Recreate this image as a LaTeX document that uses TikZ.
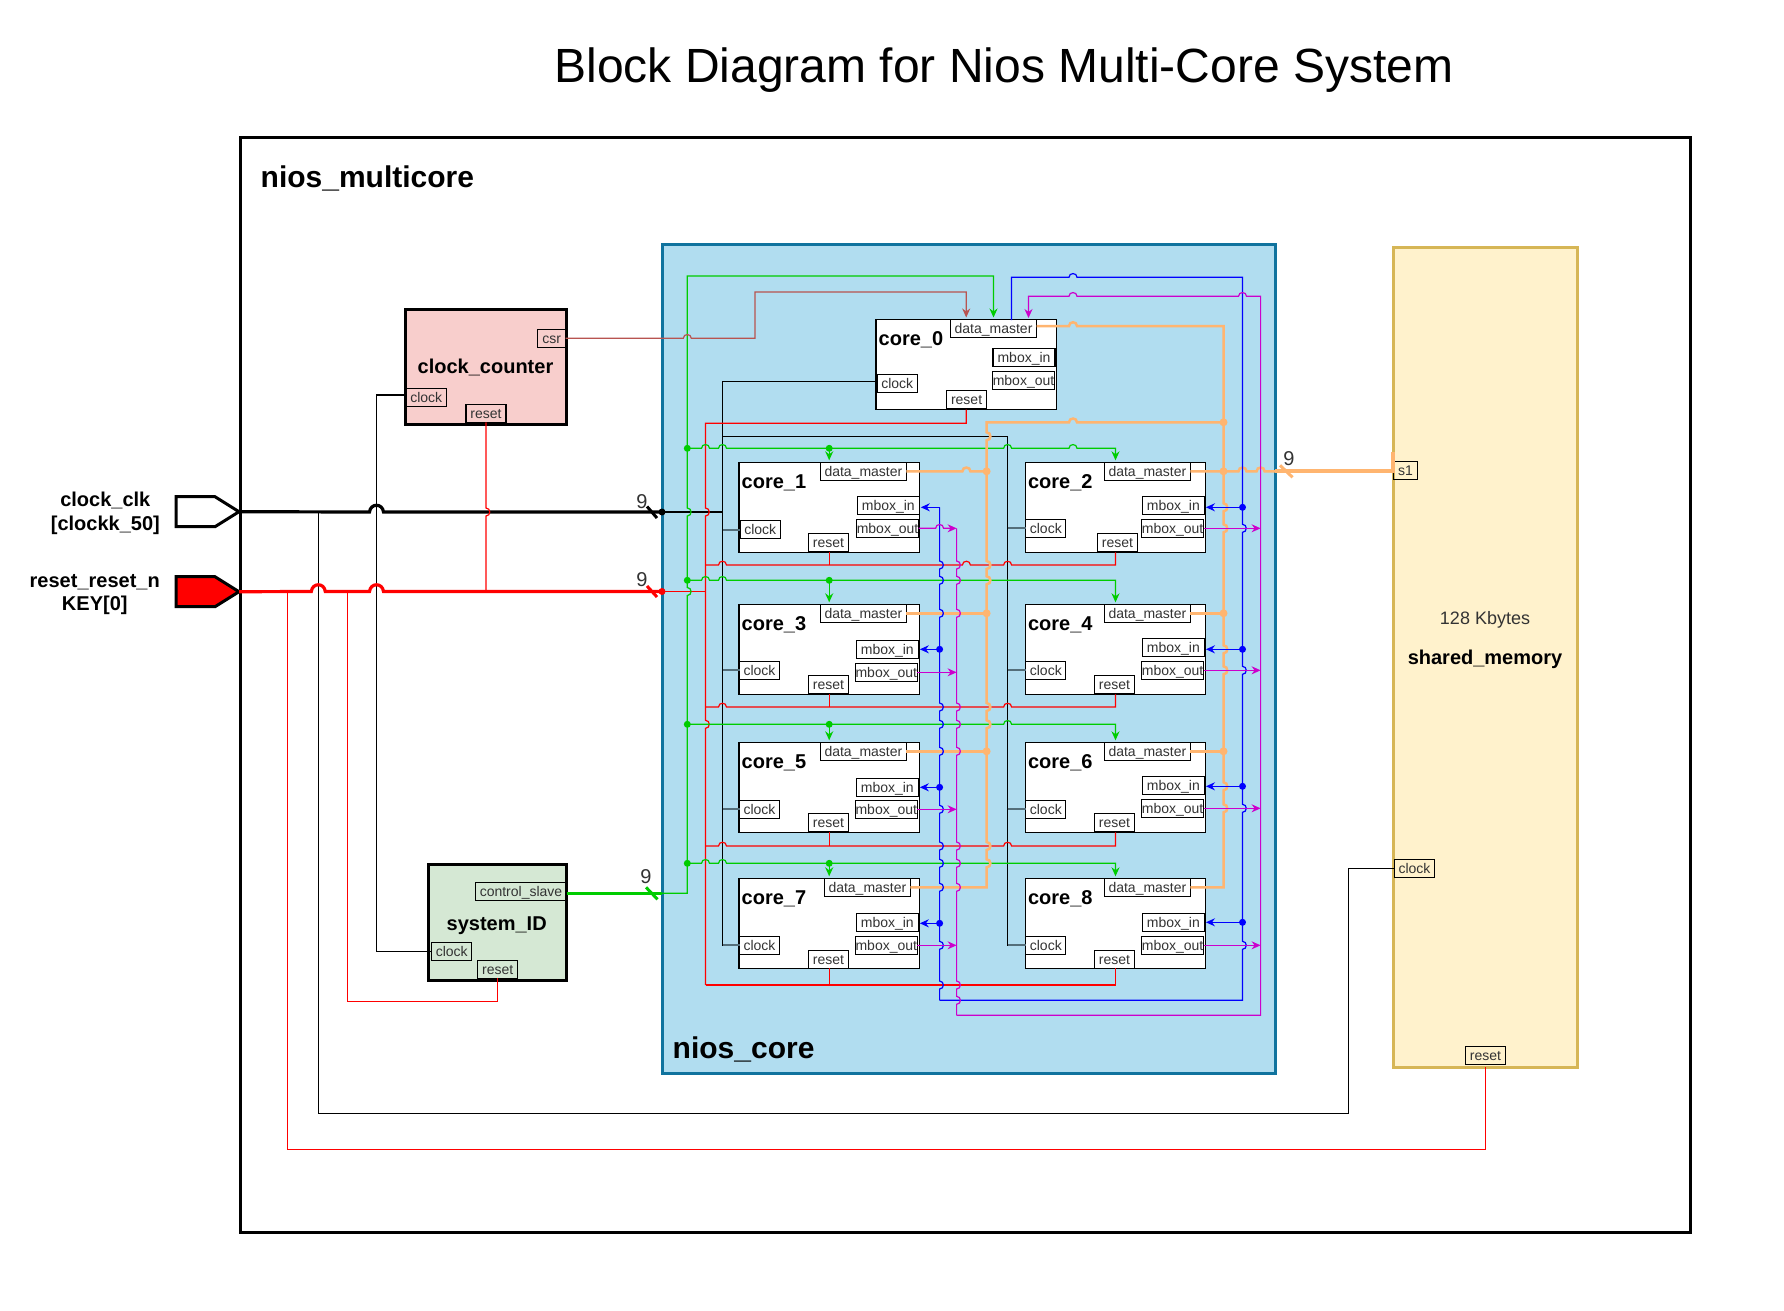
\documentclass[tikz,border=0pt]{standalone}
\usepackage{fontspec}
\setmainfont{Liberation Sans}
\usetikzlibrary{positioning,arrows.meta,calc,shapes.symbols}
\definecolor{nioblue}{HTML}{B1DDF0}
\definecolor{nioedge}{HTML}{10739E}
\definecolor{memfill}{HTML}{FFF2CC}
\definecolor{memedge}{HTML}{D6B656}
\definecolor{pinkfill}{HTML}{F8CECC}
\definecolor{greenfill}{HTML}{D5E8D4}
\definecolor{wgreen}{HTML}{00CC00}
\definecolor{wmag}{HTML}{CC00CC}
\definecolor{worange}{HTML}{FFB570}
\definecolor{wbrown}{HTML}{B85450}
\definecolor{wstub}{HTML}{546E7A}
\definecolor{txtgray}{HTML}{333333}
\newcommand{\hop}[2]{-- (#1-4,#2) .. controls (#1-4,#2-5) and (#1+4,#2-5) .. (#1+4,#2)}
\newcommand{\hopl}[2]{-- (#1+4,#2) .. controls (#1+4,#2-5) and (#1-4,#2-5) .. (#1-4,#2)}
\newcommand{\vhop}[2]{-- (#1,#2-4) .. controls (#1+5,#2-4) and (#1+5,#2+4) .. (#1,#2+4)}
\newcommand{\bighop}[2]{-- (#1-7,#2) .. controls (#1-6,#2-9) and (#1+6,#2-9) .. (#1+7,#2)}
\tikzset{
  corebox/.style={draw,fill=white,line width=1.2pt,inner sep=0pt,outer sep=0pt,minimum width=180.4pt,minimum height=90pt},
  portbox/.style={draw,line width=1.2pt,inner sep=0pt,outer sep=0pt,minimum height=18pt,minimum width=#1,text=txtgray,text height=11.5pt,text depth=1.5pt,font=\fontsize{14}{16}\selectfont},
  corename/.style={inner sep=0pt,font=\fontsize{20}{23}\selectfont\bfseries},
  bigbox/.style={draw,line width=3pt,inner sep=0pt,outer sep=0pt},
  pinshape/.style={signal,signal to=east,signal pointer angle=64,draw,line width=3pt,inner sep=0pt,outer sep=0pt,minimum width=63pt,minimum height=30pt,anchor=east},
  pinlabel/.style={align=center,inner sep=0pt,font=\fontsize{20}{23.6}\selectfont\bfseries},
  buslabel/.style={inner sep=0pt,text=txtgray,font=\fontsize{20}{23}\selectfont},
  dotnode/.style={circle,fill=#1,inner sep=0pt,outer sep=0pt,minimum size=7pt},
  wire/.style={line width=1.2pt,draw=#1},
  wire/.default=black,
  stub/.style={line width=2pt,draw=wstub},
  orangewire/.style={line width=2.5pt,draw=worange},
  busline/.style={line width=3.2pt,draw=#1},
  busmark/.style={line width=3pt,draw=#1}
}
\begin{document}
\begin{tikzpicture}[x=1pt,y=-1pt,>={Stealth[length=9pt,width=8pt]},node distance=16pt]
\path[use as bounding box,fill=white] (0,0) rectangle (1784,1310);

\node[font=\fontsize{48}{56}\selectfont] (title) at (1004,70.5) {Block Diagram for Nios Multi-Core System};
\node[bigbox,minimum width=1450pt,minimum height=1095pt] (mc) at (965.2,685) {};
\node[anchor=west,inner sep=0pt,font=\fontsize{30}{34}\selectfont\bfseries] (mcname) at (260.5,178) {nios\_multicore};
\node[bigbox,fill=nioblue,draw=nioedge,minimum width=612.5pt,minimum height=828.5pt] (nc) at (968.75,658.75) {};
\node[anchor=west,inner sep=0pt,font=\fontsize{30}{34}\selectfont\bfseries] (ncname) at (672.5,1049.5) {nios\_core};

% outside blocks
\node[pinshape,fill=white] (clk) at (239,511.7) {};
\node[pinlabel,left=of clk,yshift=-1.5pt] (clklbl) {clock\_clk\\{}[clockk\_50]};
\node[pinshape,fill=red] (rst) at (239,591.7) {};
\node[pinlabel,left=of rst,yshift=-3pt] (rstlbl) {reset\_reset\_n\\KEY[0]};

\node[bigbox,fill=pinkfill,minimum width=161.3pt,minimum height=115pt] (cc) at (485.65,366.5) {};
\node[corename] (ccname) at (485.5,367.3) {clock\_counter};
\node[portbox=28pt] (ce) at (551.6,338.3) {csr};
\node[portbox=40pt] (kc) at (426.2,397.7) {clock};
\node[portbox=40pt] (rc) at (486,413.3) {reset};

\node[bigbox,fill=greenfill,minimum width=138.4pt,minimum height=116pt] (sy) at (497.5,922) {};
\node[corename] (syname) at (496.7,925.3) {system\_ID};
\node[portbox=91.4pt] (cs) at (521,891.3) {control\_slave};
\node[portbox=40pt] (ks) at (451.7,951.3) {clock};
\node[portbox=40pt] (rs) at (497.7,969.3) {reset};

\node[bigbox,fill=memfill,draw=memedge,minimum width=184.4pt,minimum height=820pt] (mem) at (1485.2,657) {};
\node[inner sep=0pt,text=txtgray,font=\fontsize{18}{22}\selectfont] (memsize) at (1485,620) {128 Kbytes};
\node[corename] (memname) at (1485,659) {shared\_memory};
\node[portbox=24.4pt] (s1) at (1405.5,470.5) {s1};
\node[portbox=40.4pt] (km) at (1414.5,868.3) {clock};
\node[portbox=40.4pt] (rm) at (1485.5,1055.3) {reset};

% cores
\node[corebox] (c0) at (966.2,364.5) {};
\node[corebox] (c1) at (829.2,507.3) {};
\node[corebox] (c2) at (1115.5,507.3) {};
\node[corebox] (c3) at (829.2,649.3) {};
\node[corebox] (c4) at (1115.5,649.3) {};
\node[corebox] (c5) at (829.2,787.3) {};
\node[corebox] (c6) at (1115.5,787.3) {};
\node[corebox] (c7) at (829.2,923.3) {};
\node[corebox] (c8) at (1115.5,923.3) {};
\node[corename,below right=12pt and 2.5pt of c0.north west] (n0) {core\_0};
\node[corename,below right=12pt and 2.5pt of c1.north west] (n1) {core\_1};
\node[corename,below right=12pt and 2.5pt of c2.north west] (n2) {core\_2};
\node[corename,below right=12pt and 2.5pt of c3.north west] (n3) {core\_3};
\node[corename,below right=12pt and 2.5pt of c4.north west] (n4) {core\_4};
\node[corename,below right=12pt and 2.5pt of c5.north west] (n5) {core\_5};
\node[corename,below right=12pt and 2.5pt of c6.north west] (n6) {core\_6};
\node[corename,below right=12pt and 2.5pt of c7.north west] (n7) {core\_7};
\node[corename,below right=12pt and 2.5pt of c8.north west] (n8) {core\_8};

% ports
\node[portbox=86pt] (d0) at (993.5,328.5) {data\_master};
\node[portbox=62pt] (mi0) at (1024,357.7) {mbox\_in};
\node[portbox=62pt] (mo0) at (1023.5,380.5) {mbox\_out};
\node[portbox=40pt] (k0) at (897.2,383.5) {clock};
\node[portbox=40pt] (r0) at (966.6,399.5) {reset};

\node[portbox=86pt] (d1) at (863.4,471.3) {data\_master};
\node[portbox=62pt] (mi1) at (888.3,505.3) {mbox\_in};
\node[portbox=62pt] (mo1) at (887.5,528.3) {mbox\_out};
\node[portbox=40pt] (k1) at (760.2,529.5) {clock};
\node[portbox=40pt] (r1) at (828.5,542.5) {reset};

\node[portbox=86pt] (d2) at (1147.4,471.3) {data\_master};
\node[portbox=62pt] (mi2) at (1173.4,505.3) {mbox\_in};
\node[portbox=62pt] (mo2) at (1172.6,528.3) {mbox\_out};
\node[portbox=40pt] (k2) at (1045.8,528.3) {clock};
\node[portbox=40pt] (r2) at (1117.5,542.5) {reset};

\node[portbox=86pt] (d3) at (863.4,613.3) {data\_master};
\node[portbox=62pt] (mi3) at (887.3,649.3) {mbox\_in};
\node[portbox=62pt] (mo3) at (886.3,672.3) {mbox\_out};
\node[portbox=40pt] (k3) at (759.5,670.3) {clock};
\node[portbox=40pt] (r3) at (828.5,684.5) {reset};

\node[portbox=86pt] (d4) at (1147.4,613.3) {data\_master};
\node[portbox=62pt] (mi4) at (1173.4,647.3) {mbox\_in};
\node[portbox=62pt] (mo4) at (1172.6,670.3) {mbox\_out};
\node[portbox=40pt] (k4) at (1045.8,670.3) {clock};
\node[portbox=40pt] (r4) at (1114.5,684.5) {reset};

\node[portbox=86pt] (d5) at (863.4,751.3) {data\_master};
\node[portbox=62pt] (mi5) at (887.3,787.2) {mbox\_in};
\node[portbox=62pt] (mo5) at (886.3,809.3) {mbox\_out};
\node[portbox=40pt] (k5) at (759.5,809.3) {clock};
\node[portbox=40pt] (r5) at (828.5,822.5) {reset};

\node[portbox=86pt] (d6) at (1147.4,751.3) {data\_master};
\node[portbox=62pt] (mi6) at (1173.4,785.3) {mbox\_in};
\node[portbox=62pt] (mo6) at (1172.6,808.3) {mbox\_out};
\node[portbox=40pt] (k6) at (1045.8,809.3) {clock};
\node[portbox=40pt] (r6) at (1114.5,822.5) {reset};

\node[portbox=86pt] (d7) at (867.4,887.3) {data\_master};
\node[portbox=62pt] (mi7) at (887.3,922.3) {mbox\_in};
\node[portbox=62pt] (mo7) at (886.3,945.3) {mbox\_out};
\node[portbox=40pt] (k7) at (759.5,945.3) {clock};
\node[portbox=40pt] (r7) at (828.5,959.3) {reset};

\node[portbox=86pt] (d8) at (1147.4,887.3) {data\_master};
\node[portbox=62pt] (mi8) at (1173.4,922.3) {mbox\_in};
\node[portbox=62pt] (mo8) at (1172.6,945.3) {mbox\_out};
\node[portbox=40pt] (k8) at (1045.8,945.3) {clock};
\node[portbox=40pt] (r8) at (1114.5,959.3) {reset};

% corners and rows
\coordinate (ckbus) at (722.5,512);
\coordinate (cktop) at (722.5,381.3);
\coordinate (ckright) at (1007.6,436.3);
\coordinate (ckcorner) at (376.5,395);
\coordinate (rr1) at (705.5,565);
\coordinate (rr2) at (705.5,707);
\coordinate (rr3) at (705.5,846);
\coordinate (rr4) at (705.5,985);
\coordinate (rtop) at (705.5,423.3);
\coordinate (ginp) at (662,893.3);
\coordinate (oinp) at (1275,471.3);
\coordinate (ocorner) at (1223.5,326);
\coordinate (blstart) at (1011.5,320);
\coordinate (bltop) at (939.6,507.3);
\coordinate (blbot) at (939.6,1000.3);
\coordinate (mgstart) at (1028.5,320);
\coordinate (mgtop) at (956.6,528.3);
\coordinate (mgbot) at (956.6,1015.3);
\coordinate (mgright) at (1260.6,296.3);

% junctions
\node[dotnode=black] (jck) at (662,512) {};
\node[dotnode=red] (jrst) at (662,591.5) {};
\node[dotnode=wgreen] (g1) at (687.3,448.3) {};
\node[dotnode=wgreen] (g2) at (687.3,580.3) {};
\node[dotnode=wgreen] (g3) at (687.3,724.3) {};
\node[dotnode=wgreen] (g4) at (687.3,863.3) {};
\node[dotnode=wgreen] (gm1) at (829.2,448.3) {};
\node[dotnode=wgreen] (gm2) at (829.2,580.3) {};
\node[dotnode=wgreen] (gm3) at (829.2,724.3) {};
\node[dotnode=wgreen] (gm4) at (829.2,863.3) {};
\node[dotnode=blue] (bj2) at (1242.5,507.3) {};
\node[dotnode=blue] (bj3) at (939.6,649.3) {};
\node[dotnode=blue] (bj4) at (1242.5,649.3) {};
\node[dotnode=blue] (bj5) at (939.6,787.3) {};
\node[dotnode=blue] (bj6) at (1242.5,786.3) {};
\node[dotnode=blue] (bj7) at (939.6,923.3) {};
\node[dotnode=blue] (bj8) at (1242.5,922.3) {};
\node[dotnode=worange,minimum size=8pt] (oj0) at (1223.5,422.3) {};
\node[dotnode=worange,minimum size=8pt] (oj2) at (1223.5,471.3) {};
\node[dotnode=worange,minimum size=8pt] (oj4) at (1223.5,613.3) {};
\node[dotnode=worange,minimum size=8pt] (oj6) at (1223.5,751.3) {};
\node[dotnode=worange,minimum size=8pt] (oj1) at (986.6,471.3) {};
\node[dotnode=worange,minimum size=8pt] (oj3) at (986.6,613.3) {};
\node[dotnode=worange,minimum size=8pt] (oj5) at (986.6,751.3) {};

% clock
\draw[busline=black] (clk.east) \bighop{376.5}{512} -- (jck.center);
\draw[wire] (jck.center) -- (ckbus);
\draw[wire] (cktop -| k0.west) -- (cktop) |- (k7.west);
\draw[wire] (ckbus |- ckright) -- (ckright) |- (k8.west);
\draw[stub] (ckbus |- k1.west) -- (k1.west);
\draw[stub] (ckbus |- k3.west) -- (k3.west);
\draw[stub] (ckbus |- k5.west) -- (k5.west);
\draw[stub] (ckbus |- k7.west) -- (k7.west);
\draw[stub] (ckright |- k2.west) -- (k2.west);
\draw[stub] (ckright |- k4.west) -- (k4.west);
\draw[stub] (ckright |- k6.west) -- (k6.west);
\draw[stub] (ckright |- k8.west) -- (k8.west);
\draw[wire] (ckcorner -| kc.west) -- (ckcorner) |- (ks.west);
\draw[wire] (km.west) -- (1348.3,868.3) -- (1348.3,1113.3) -- (318.3,1113.3) -- (318.3,512);

% reset
\draw[busline=red] (rst.east) \bighop{318.3}{591.5} \bighop{376.5}{591.5} -- (jrst.center);
\draw[wire=red] (jrst.center) -- (rtop |- jrst);
\draw[wire=red] (c0.south) |- (rtop) \vhop{705.5}{512} \vhop{705.5}{724.3} -- (rr4);
\draw[wire=red] (rr1) \hop{722.5}{565} \hop{966.4}{565} \hop{1007.6}{565} -| (c2.south);
\draw[wire=red] (rr2) \hop{722.5}{707} \hop{1007.6}{707} -| (c4.south);
\draw[wire=red] (rr3) \hop{722.5}{846} \hop{1007.6}{846} -| (c6.south);
\draw[wire=red] (rr4) -| (c8.south);
\draw[wire=red] (c1.south) -- (c1.south |- rr1);
\draw[wire=red] (c3.south) -- (c3.south |- rr2);
\draw[wire=red] (c5.south) -- (c5.south |- rr3);
\draw[wire=red] (c7.south) -- (c7.south |- rr4);
\draw[wire=red] (rc.south) \vhop{486}{512} -- (rc.south |- jrst);
\draw[wire=red] (rs.south) -- (497.7,1001.3) -- (347.7,1001.3) -- (347.7,591.5);
\draw[wire=red] (mem.south) -- (1485.2,1149.3) -- (287.3,1149.3) -- (287.3,591.5);

% control slave
\draw[busline=wgreen] (cs.east |- ginp) -- (ginp);
\draw[wire=wgreen,<-,shorten <=2pt] (d0.north) |- (687.3,276) \vhop{687.3}{512} \vhop{687.3}{591.5} |- (ginp);
\draw[wire=wgreen,->,shorten >=2pt] (g1.center) \hop{705.5}{448.3} \hop{722.5}{448.3} \hop{1007.6}{448.3} \hop{1073}{448.3} -| (c2.north);
\draw[wire=wgreen,->,shorten >=2pt] (g2.center) \hop{705.5}{580.3} \hop{722.5}{580.3} -| (c4.north);
\draw[wire=wgreen,->,shorten >=2pt] (g3.center) \hop{1007.6}{724.3} -| (c6.north);
\draw[wire=wgreen,->,shorten >=2pt] (g4.center) \hop{705.5}{863.3} \hop{722.5}{863.3} -| (c8.north);
\draw[wire=wgreen,->,shorten >=2pt] (gm1.center) -- (c1.north);
\draw[wire=wgreen,->,shorten >=2pt] (gm2.center) -- (c3.north);
\draw[wire=wgreen,->,shorten >=2pt] (gm3.center) -- (c5.north);
\draw[wire=wgreen,->,shorten >=2pt] (gm4.center) -- (c7.north);

% csr
\draw[wire=wbrown,->,shorten >=2pt] (ce.east) \hop{687.3}{338.3} -- (755,338.3) -- (755,292) -| (c0.north);

% data master
\draw[orangewire] (d0.east |- ocorner) \hop{1073}{326} -- (ocorner) -- (oj0.center) -- (oj2.center) \vhop{1223.5}{507.3} \vhop{1223.5}{528.3} -- (oj4.center) \vhop{1223.5}{649.3} \vhop{1223.5}{670.3} -- (oj6.center) \vhop{1223.5}{786.3} \vhop{1223.5}{808.3} |- (d8.east);
\draw[orangewire] (oj0.center) \hopl{1073}{422.3} -- (986.6,422.3) \vhop{986.6}{436.3} -- (oj1.center) \vhop{986.6}{565} \vhop{986.6}{580.3} -- (oj3.center) \vhop{986.6}{707} \vhop{986.6}{724.3} -- (oj5.center) \vhop{986.6}{846} \vhop{986.6}{863.3} |- (d7.east);
\draw[orangewire] (d1.east) \hop{966.4}{471.3} -- (oj1.center);
\draw[orangewire] (d3.east) -- (oj3.center);
\draw[orangewire] (d5.east) -- (oj5.center);
\draw[orangewire] (d2.east) -- (oj2.center) \hop{1242.5}{471.3} \hop{1260.6}{471.3} -- (oinp);
\draw[orangewire] (d4.east) -- (oj4.center);
\draw[orangewire] (d6.east) -- (oj6.center);
\draw[busline=worange,line width=4pt] (oinp) -- (s1.west |- oinp) -- ++(0,-19.6);

% mbox in
\draw[wire=blue] (blstart) -- (1011.5,277.3) \hop{1073}{277.3} -- (1242.5,277.3) \vhop{1242.5}{528.3} \vhop{1242.5}{670.3} \vhop{1242.5}{808.3} \vhop{1242.5}{945.3} |- (blbot);
\draw[wire=blue] (bltop) \vhop{939.6}{565} \vhop{939.6}{580.3} \vhop{939.6}{613.3} \vhop{939.6}{707} \vhop{939.6}{724.3} \vhop{939.6}{751.3} \vhop{939.6}{809.3} \vhop{939.6}{846} \vhop{939.6}{863.3} \vhop{939.6}{887.3} \vhop{939.6}{945.3} \vhop{939.6}{985} -- (blbot);
\draw[wire=blue,->,shorten >=1.5pt] (bltop) -- (bltop -| mi1.east);
\draw[wire=blue,->,shorten >=1.5pt] (bj2.center) -- (bj2 -| mi2.east);
\draw[wire=blue,->,shorten >=1.5pt] (bj3.center) -- (bj3 -| mi3.east);
\draw[wire=blue,->,shorten >=1.5pt] (bj4.center) -- (bj4 -| mi4.east);
\draw[wire=blue,->,shorten >=1.5pt] (bj5.center) -- (bj5 -| mi5.east);
\draw[wire=blue,->,shorten >=1.5pt] (bj6.center) -- (bj6 -| mi6.east);
\draw[wire=blue,->,shorten >=1.5pt] (bj7.center) -- (bj7 -| mi7.east);
\draw[wire=blue,->,shorten >=1.5pt] (bj8.center) -- (bj8 -| mi8.east);

% mbox out
\draw[wire=wmag,<-,shorten <=2pt] (mgstart) |- (mgright -| mgstart) \hop{1073}{296.3} \hop{1242.5}{296.3} -- (mgright) |- (mgbot);
\draw[wire=wmag] (mgtop) \vhop{956.6}{565} \vhop{956.6}{580.3} \vhop{956.6}{613.3} \vhop{956.6}{707} \vhop{956.6}{724.3} \vhop{956.6}{751.3} \vhop{956.6}{846} \vhop{956.6}{863.3} \vhop{956.6}{887.3} \vhop{956.6}{985} \vhop{956.6}{1000.3} -- (mgbot);
\draw[wire=wmag,->] (mo1.east) \hop{939.6}{528.3} -- (mo1.east -| mgtop);
\draw[wire=wmag,->] (mo3.east) -- (mo3.east -| mgtop);
\draw[wire=wmag,->] (mo5.east) -- (mo5.east -| mgtop);
\draw[wire=wmag,->] (mo7.east) -- (mo7.east -| mgtop);
\draw[wire=wmag,->] (mo2.east) -- (mo2.east -| mgright);
\draw[wire=wmag,->] (mo4.east) -- (mo4.east -| mgright);
\draw[wire=wmag,->] (mo6.east) -- (mo6.east -| mgright);
\draw[wire=wmag,->] (mo8.east) -- (mo8.east -| mgright);

% bus widths
\draw[busmark=black] ($(jck)+(-15,-5.5)$) -- ($(jck)+(-5,6)$);
\draw[busmark=red] ($(jrst)+(-15,-5.5)$) -- ($(jrst)+(-5,5.5)$);
\draw[busmark=wgreen] ($(ginp)+(-16,-6)$) -- ($(ginp)+(-4.5,6)$);
\draw[busmark=worange] ($(oinp)+(5,-6)$) -- ($(oinp)+(17.5,6)$);
\node[buslabel] (wclk) at (642,502) {9};
\node[buslabel] (wrst) at (642,579.3) {9};
\node[buslabel] (wsys) at (646,876.7) {9};
\node[buslabel] (wmem) at (1289,458.3) {9};
\end{tikzpicture}
\end{document}
